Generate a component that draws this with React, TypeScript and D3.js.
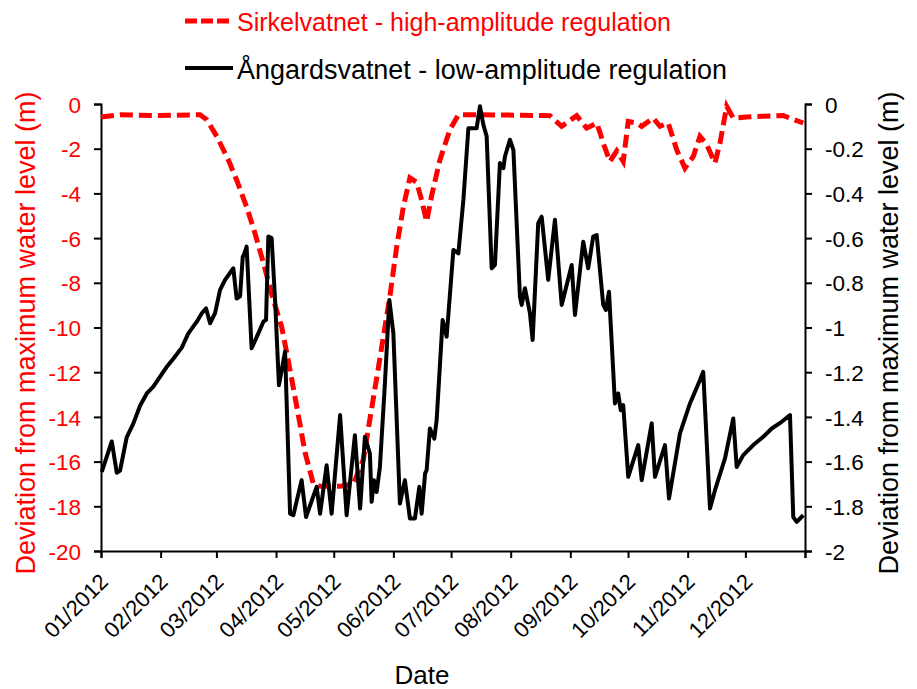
import React, { useEffect, useRef } from 'react';
import * as d3 from 'd3';

// days since 01/01/2012, level below max (m)
const sirkelvatnet: [number, number][] = [
  [0, -0.58], [10, -0.48], [30, -0.52], [51.5, -0.48], [55, -0.7], [60.2, -1.45], [66.2, -2.5],
  [70.5, -3.4], [75.7, -4.6], [80.1, -5.8], [84.4, -7.1], [88.7, -8.5], [93.9, -9.96], [97.4, -11.5],
  [101.7, -13.5], [106.1, -15.6], [110.4, -17.0], [113.9, -17.1], [124.3, -17.1], [131.2, -17.0],
  [136.4, -15.9], [139.8, -14.1], [144.2, -11.8], [150.2, -8.6], [153.7, -6.4], [157.2, -4.6],
  [160.6, -3.3], [164.1, -3.5], [166.7, -4.3], [169.3, -5.26], [171.9, -4.1], [176.2, -2.5],
  [181.4, -1.15], [185.8, -0.48], [195.3, -0.48], [215, -0.5], [233.4, -0.52], [239.5, -1.0],
  [247.3, -0.52], [252.5, -1.08], [257.7, -0.85], [259.5, -1.3], [261.1, -1.75], [264.6, -2.57],
  [268.1, -2.1], [271.5, -2.57], [274.1, -0.78], [278.5, -0.85], [281.1, -1.0], [287.1, -0.63],
  [290.6, -1.0], [294.9, -0.85], [299.3, -2.05], [303.6, -2.87], [307.9, -2.35], [311.4, -1.45],
  [314.9, -1.82], [319.2, -2.64], [321.8, -1.75], [325.3, -0.1], [328.7, -0.63], [335.7, -0.58],
  [344.3, -0.55], [354.7, -0.52], [365.1, -0.85],
];

const angardsvatnet: [number, number][] = [
  [0.4, -1.646], [5.6, -1.51], [8.2, -1.65], [9.9, -1.64], [13.4, -1.49], [16.8, -1.43], [20.3, -1.35],
  [23.8, -1.295], [27.2, -1.265], [30.7, -1.22], [34.2, -1.176], [37.6, -1.14], [42.0, -1.09],
  [45.4, -1.026], [49.8, -0.974], [52.4, -0.936], [54.6, -0.914], [56.7, -0.981], [59.3, -0.936],
  [61.9, -0.832], [64.5, -0.787], [68.8, -0.735], [70.5, -0.87], [72.3, -0.86], [73.7, -0.683],
  [74.3, -0.675], [75.7, -0.638], [78.3, -1.093], [81.8, -1.026], [84.4, -0.974], [85.8, -0.966],
  [87.0, -0.593], [88.7, -0.6], [90.5, -0.877], [92.5, -1.258], [95.7, -1.108], [98.3, -1.833],
  [100.0, -1.84], [104.3, -1.683], [106.6, -1.848], [112.1, -1.713], [113.9, -1.833], [117.3, -1.616],
  [119.9, -1.833], [124.3, -1.392], [127.7, -1.84], [132.0, -1.482], [134.7, -1.81], [137.2, -1.489],
  [139.8, -1.564], [140.7, -1.78], [141.9, -1.683], [143.3, -1.736], [145.0, -1.624], [147.6, -1.25],
  [149.9, -0.877], [152.0, -1.026], [155.4, -1.788], [158.0, -1.683], [160.6, -1.855], [163.2, -1.855],
  [165.5, -1.713], [166.7, -1.833], [168.5, -1.653], [169.3, -1.638], [171.0, -1.452], [173.3, -1.497],
  [174.5, -1.414], [177.6, -0.966], [179.7, -1.041], [183.2, -0.653], [185.8, -0.668], [188.4, -0.429],
  [191.0, -0.108], [195.3, -0.108], [197.0, -0.01], [198.8, -0.093], [200.5, -0.145], [203.1, -0.735],
  [204.8, -0.72], [207.4, -0.264], [209.2, -0.287], [210.0, -0.235], [212.6, -0.16], [214.4, -0.205],
  [217.8, -0.862], [218.7, -0.899], [220.4, -0.824], [223.0, -0.936], [224.4, -1.056], [227.3, -0.533],
  [229.1, -0.504], [232.5, -0.787], [236.0, -0.518], [239.5, -0.899], [244.7, -0.72], [246.4, -0.944],
  [250.7, -0.616], [253.3, -0.735], [255.9, -0.593], [257.7, -0.586], [261.1, -0.899], [262.5, -0.922],
  [264.1, -0.84], [267.2, -1.34], [268.9, -1.295], [270.2, -1.37], [271.5, -1.347], [274.1, -1.668],
  [279.3, -1.526], [281.1, -1.683], [286.3, -1.429], [288.0, -1.668], [293.2, -1.526], [295.3, -1.765],
  [301.0, -1.474], [306.2, -1.34], [311.4, -1.235], [313.1, -1.198], [316.6, -1.81], [319.2, -1.728],
  [324.4, -1.586], [328.7, -1.407], [330.5, -1.624], [333.9, -1.571], [339.1, -1.526], [344.3, -1.489],
  [348.7, -1.452], [353.9, -1.422], [358.2, -1.392], [359.9, -1.848], [361.7, -1.87], [365.1, -1.84],
];

const leftTicks = [0, -2, -4, -6, -8, -10, -12, -14, -16, -18, -20];
const rightTicks = [0, -0.2, -0.4, -0.6, -0.8, -1, -1.2, -1.4, -1.6, -1.8, -2];
const legendLabels = ['Sirkelvatnet - high-amplitude regulation', 'Ångardsvatnet - low-amplitude regulation'];

const App = () => {
  const svgRef = useRef<SVGSVGElement>(null);

  useEffect(() => {
    const w = 917;
    const h = 689;
    const font = "'Liberation Sans', Arial, sans-serif";
    const red = '#ff0000';
    const svg = d3.select(svgRef.current).attr('width', w).attr('height', h);
    svg.selectAll('*').remove();

    const t0 = Date.UTC(2012, 0, 1);
    const toDate = (d: number) => new Date(t0 + d * 864e5);
    const x = d3.scaleUtc().domain([toDate(0), toDate(366)]).range([101, 805]);
    const yL = d3.scaleLinear().domain([-20, 0]).range([551, 104]);
    const yR = d3.scaleLinear().domain([-2, 0]).range([551, 104]);

    // axes
    const xTicks = [...d3.utcMonth.range(toDate(0), toDate(366)), toDate(366)];
    const xAxis = d3
      .axisBottom(x)
      .tickValues(xTicks)
      .tickSizeOuter(0)
      .tickSize(7)
      .tickFormat((d, i) => (i < 12 ? d3.utcFormat('%m/%Y')(d as Date) : ''));
    const gx = svg.append('g').attr('transform', `translate(0,${yL(-20)})`).call(xAxis);
    gx.select('.domain').attr('stroke-width', 2);
    gx.selectAll('line').attr('stroke-width', 2);
    gx.selectAll('text')
      .attr('x', 0)
      .attr('y', 0)
      .attr('dy', 0)
      .attr('text-anchor', 'end')
      .attr('transform', 'translate(8,32) rotate(-45)')
      .style('font-family', font)
      .style('font-size', '22px')
      .attr('fill', '#000');

    const yAxisL = d3.axisLeft(yL).tickValues(leftTicks).tickSizeOuter(0).tickSize(7).tickPadding(13)
      .tickFormat((d) => String(d));
    const gl = svg.append('g').attr('transform', 'translate(101,0)').call(yAxisL);
    gl.select('.domain').attr('stroke-width', 2);
    gl.selectAll('line').attr('stroke-width', 2);
    gl.selectAll('text').style('font-family', font).style('font-size', '22.5px').attr('fill', red).attr('dy', '0.36em');

    const yAxisR = d3.axisRight(yR).tickValues(rightTicks).tickSizeOuter(0).tickSize(7).tickPadding(13)
      .tickFormat((d) => String(d));
    const gr = svg.append('g').attr('transform', 'translate(805,0)').call(yAxisR);
    gr.select('.domain').attr('stroke-width', 2);
    gr.selectAll('line').attr('stroke-width', 2);
    gr.selectAll('text').style('font-family', font).style('font-size', '22.5px').attr('fill', '#000').attr('dy', '0.36em');

    // series
    const lineL = d3.line<[number, number]>().x((d) => x(toDate(d[0]))).y((d) => yL(d[1]));
    const lineR = d3.line<[number, number]>().x((d) => x(toDate(d[0]))).y((d) => yR(d[1]));

    svg.append('path')
      .datum(sirkelvatnet)
      .attr('d', lineL)
      .attr('fill', 'none')
      .attr('stroke', red)
      .attr('stroke-width', 5)
      .attr('stroke-dasharray', '13,6');

    svg.append('path')
      .datum(angardsvatnet)
      .attr('d', lineR)
      .attr('fill', 'none')
      .attr('stroke', '#000')
      .attr('stroke-width', 4)
      .attr('stroke-linejoin', 'round');

    // axis titles
    svg.append('text')
      .attr('transform', 'translate(35,333) rotate(-90)')
      .attr('text-anchor', 'middle')
      .style('font-family', font)
      .style('font-size', '27px')
      .attr('fill', red)
      .text('Deviation from maximum water level (m)');

    svg.append('text')
      .attr('transform', 'translate(898,333) rotate(-90)')
      .attr('text-anchor', 'middle')
      .style('font-family', font)
      .style('font-size', '27px')
      .attr('fill', '#000')
      .text('Deviation from maximum water level (m)');

    svg.append('text')
      .attr('x', 422)
      .attr('y', 684)
      .attr('text-anchor', 'middle')
      .style('font-family', font)
      .style('font-size', '26px')
      .text('Date');

    // legend
    const lg = svg.append('g');
    lg.append('line').attr('x1', 185).attr('x2', 229).attr('y1', 21).attr('y2', 21)
      .attr('stroke', red).attr('stroke-width', 5).attr('stroke-dasharray', '12,4');
    lg.append('text').attr('x', 237).attr('y', 31).style('font-family', font).style('font-size', '25px')
      .attr('textLength', 434).attr('lengthAdjust', 'spacingAndGlyphs')
      .attr('fill', red).text(legendLabels[0]);
    lg.append('line').attr('x1', 185).attr('x2', 233).attr('y1', 68).attr('y2', 68)
      .attr('stroke', '#000').attr('stroke-width', 4);
    lg.append('text').attr('x', 237).attr('y', 79).style('font-family', font).style('font-size', '27px')
      .attr('textLength', 490).attr('lengthAdjust', 'spacingAndGlyphs')
      .attr('fill', '#000').text(legendLabels[1]);
  }, []);

  return (
    <svg
      ref={svgRef}
      style={{ position: 'absolute', left: 0, top: 0, background: '#fff', display: 'block' }}
    ></svg>
  );
};

export default App;
